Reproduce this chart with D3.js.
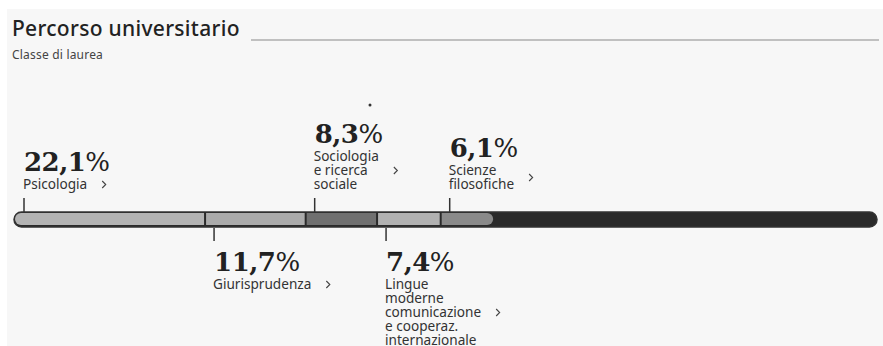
<!DOCTYPE html>
<html>
<head>
<meta charset="utf-8">
<script src="https://cdn.jsdelivr.net/npm/d3@7"></script>
<style>
  html, body { margin: 0; padding: 0; background: #fff; }
  svg { display: block; }
</style>
</head>
<body>
<div id="chart"></div>
<script>
// Classe di laurea - quota sul totale (%)
const categories = ["Psicologia", "Giurisprudenza", "Sociologia e ricerca sociale",
    "Lingue moderne comunicazione e cooperaz. internazionale", "Scienze filosofiche"];
const values = [22.1, 11.7, 8.3, 7.4, 6.1];
const labelLines = [
    ["Psicologia"],
    ["Giurisprudenza"],
    ["Sociologia", "e ricerca", "sociale"],
    ["Lingue", "moderne", "comunicazione", "e cooperaz.", "internazionale"],
    ["Scienze", "filosofiche"]
];
const title = "Percorso universitario";
const subtitle = "Classe di laurea";

const W = 883, H = 346;
const fills = ["#b3b3b3", "#ababab", "#707070", "#b1b1b1", "#8a8a8a"];
const fmt = v => d3.format(".1f")(v).replace(".", ",") + "%";

let svg = d3.select("#chart").append("svg")
    .attr("width", W).attr("height", H);

// panel background
svg.append("rect")
    .attr("x", 7).attr("y", 9)
    .attr("width", W - 7).attr("height", H - 9)
    .attr("fill", "#f7f7f7");

// title + rule
let t = svg.append("text")
    .attr("x", 12).attr("y", 36)
    .style("font-family", "'Noto Sans', sans-serif")
    .style("font-size", "21px")
    .style("font-weight", 500)
    .style("letter-spacing", "0.3px")
    .style("fill", "#222")
    .text(title);
let tw = t.node().getComputedTextLength();
svg.append("line")
    .attr("x1", Math.max(251, 12 + tw + 8)).attr("x2", 879)
    .attr("y1", 40).attr("y2", 40)
    .attr("stroke", "#c0c0c0").attr("stroke-width", 2);

svg.append("text")
    .attr("x", 12).attr("y", 59)
    .style("font-family", "'Noto Sans', sans-serif")
    .style("font-size", "12px")
    .style("letter-spacing", "0.2px")
    .style("fill", "#444")
    .text(subtitle);

// scale: 0-100%
let x = d3.scaleLinear().domain([0, 100]).range([15, 875]);
let barY = 219;

// track
svg.append("rect")
    .attr("x", x(0) - 1).attr("y", barY - 7)
    .attr("width", x(100) - x(0) + 3).attr("height", 15)
    .attr("rx", 7.5)
    .attr("fill", "#2a2a2a")
    .attr("stroke", "#333").attr("stroke-width", 1.5);

let starts = [];
let acc = 0;
values.forEach(v => { starts.push(acc); acc += v; });

// segments
let segG = svg.append("g");
values.forEach((v, i) => {
    let x0 = x(starts[i]), x1 = x(starts[i] + v);
    let last = i === values.length - 1;
    if (i === 0 || last) {
        // rounded ends
        let r = 6;
        let p = d3.path();
        if (i === 0) {
            p.moveTo(x1, barY - 6);
            p.lineTo(x0 + r, barY - 6);
            p.arc(x0 + r, barY, r, -Math.PI / 2, Math.PI / 2, true);
            p.lineTo(x1, barY + 6);
        } else {
            p.moveTo(x0, barY - 6);
            p.lineTo(x1 - r, barY - 6);
            p.arc(x1 - r, barY, r, -Math.PI / 2, Math.PI / 2, false);
            p.lineTo(x0, barY + 6);
        }
        p.closePath();
        segG.append("path").attr("d", p.toString()).attr("fill", fills[i]);
    } else {
        segG.append("rect")
            .attr("x", x0).attr("y", barY - 6)
            .attr("width", x1 - x0).attr("height", 12)
            .attr("fill", fills[i]);
    }
    if (i > 0) {
        segG.append("line")
            .attr("x1", x0).attr("x2", x0)
            .attr("y1", barY - 7).attr("y2", barY + 7)
            .attr("stroke", "#2a2a2a").attr("stroke-width", 2);
    }
});

// labels
values.forEach((v, i) => {
    let above = i % 2 === 0;
    let tx = x(starts[i]) + 9;
    let lines = labelLines[i];
    let lh = 14;
    let g = svg.append("g");

    g.append("line")
        .attr("x1", tx).attr("x2", tx)
        .attr("y1", above ? 198 : 228)
        .attr("y2", above ? 212 : 241)
        .attr("stroke", "#333").attr("stroke-width", 1.5);

    let firstBase = above ? 189 - (lines.length - 1) * lh : 289;
    let numBase = firstBase - 18;

    g.append("text")
        .attr("x", tx).attr("y", numBase)
        .style("font-family", "'DejaVu Serif', serif")
        .style("font-size", "26px")
        .style("font-weight", "bold")
        .style("letter-spacing", "-0.5px")
        .style("fill", "#222")
        .text(fmt(v).replace("%", ""))
        .append("tspan")
        .style("font-weight", "normal")
        .text("%");

    let maxW = 0;
    lines.forEach((ln, j) => {
        let tt = g.append("text")
            .attr("x", tx - 1).attr("y", firstBase + j * lh)
            .style("font-family", "'Noto Sans', sans-serif")
            .style("font-size", "13.6px")
            .style("fill", "#333")
            .text(ln);
        maxW = Math.max(maxW, tt.node().getComputedTextLength());
    });

    // chevron
    let cx = tx - 1 + maxW + 15;
    let cy = firstBase + (lines.length - 1) * lh / 2 - 4.5;
    g.append("path")
        .attr("d", `M${cx},${cy - 3.5}L${cx + 3.5},${cy}L${cx},${cy + 3.5}`)
        .attr("fill", "none")
        .attr("stroke", "#444").attr("stroke-width", 1.1);
});

// small dot above the chart
svg.append("circle")
    .attr("cx", 370).attr("cy", 105).attr("r", 1.5)
    .attr("fill", "#333");
</script>
</body>
</html>
